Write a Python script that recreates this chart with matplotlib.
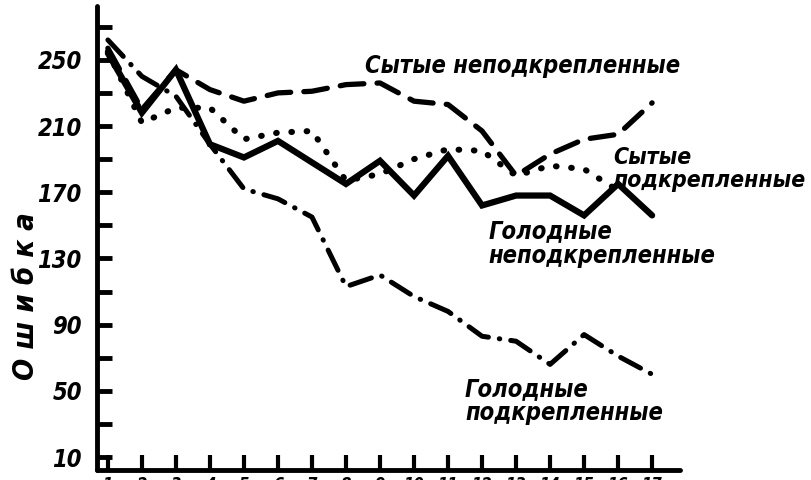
import numpy as np
import matplotlib
matplotlib.use("Agg")
import matplotlib.pyplot as plt
from matplotlib.ticker import FixedLocator

# days of training
days = list(range(1, 18))

# errors per day
golodnye_nepodkr = [254, 218, 244, 199, 191, 201, 188, 175, 189, 168, 192, 162, 168, 168, 156, 175, 156]
sytye_nepodkr = [257, 220, 244, 232, 225, 230, 231, 235, 236, 225, 223, 207, 180, 193, 202, 205, 224]
sytye_podkr = [255, 212, 221, 221, 202, 206, 207, 177, 181, 190, 196, 195, 180, 186, 184, 171]
golodnye_podkr = [262, 240, 228, 199, 172, 166, 155, 113, 120, 107, 98, 83, 80, 66, 84, 71, 60]

y_major = list(range(10, 251, 40))
y_minor = list(range(30, 271, 40))

plt.rcParams["font.family"] = ["DejaVu Sans"]
plt.rcParams["font.stretch"] = "condensed"

fig = plt.figure(figsize=(8.12, 4.8), dpi=100)
ax = fig.add_axes([97 / 812, 10 / 480, 583 / 812, 464 / 480])

ax.plot(days, golodnye_nepodkr, color="black", lw=4.5, solid_capstyle="round",
        solid_joinstyle="miter")
ax.plot(days, sytye_nepodkr, color="black", lw=3.8, linestyle=(0, (4.5, 2.5)),
        dash_capstyle="round")
ax.plot(days[:len(sytye_podkr)], sytye_podkr, color="black", lw=4.4,
        linestyle=(0, (0.1, 2.4)), dash_capstyle="round")
ax.plot(days, golodnye_podkr, color="black", lw=3.6,
        linestyle=(0, (4.5, 2.2, 0.1, 2.2)), dash_capstyle="round")

ax.set_xlim(0.68, 17.82)
ax.set_ylim(2.2, 282.5)

for side in ["top", "right"]:
    ax.spines[side].set_visible(False)
for side in ["left", "bottom"]:
    ax.spines[side].set_linewidth(3.5)
    ax.spines[side].set_capstyle("round")

ax.set_yticks(y_major)
ax.set_yticklabels([str(v) for v in y_major], fontsize=17, fontweight="bold",
                   fontstyle="italic")
ax.yaxis.set_minor_locator(FixedLocator(y_minor))
ax.tick_params(axis="y", which="both", direction="in", length=11, width=3.5, pad=11)

ax.set_xticks(days)
ax.set_xticklabels([str(d) for d in days], fontsize=12, fontweight="bold",
                   fontstyle="italic")
ax.tick_params(axis="x", direction="in", length=11, width=3, pad=4)

ax.set_ylabel("О ш и б к а", fontsize=21, fontweight="bold", fontstyle="italic")
ax.yaxis.set_label_coords(-0.098, 0.374)

lbl = dict(fontsize=17, fontweight="bold", fontstyle="italic", ha="left",
           va="center", color="black", linespacing=1.0)
ax.text(8.56, 246, "Сытые неподкрепленные", **lbl)
ax.text(15.85, 184, "Сытые\nподкрепленные", fontsize=16.5, fontweight="bold",
        fontstyle="italic", ha="left", va="center", linespacing=1.0)
ax.text(12.2, 139, "Голодные\nнеподкрепленные", **lbl)
ax.text(11.5, 44, "Голодные\nподкрепленные", **lbl)

fig.savefig("out.png", dpi=100)
